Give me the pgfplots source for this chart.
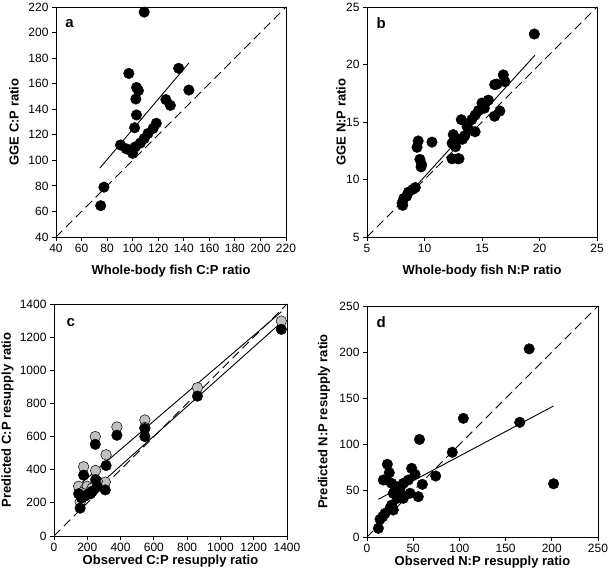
\documentclass[border=0pt]{standalone}
\usepackage{pgfplots}
\pgfplotsset{compat=1.18}
\usepackage{fontspec}
\setmainfont{Liberation Sans}
\definecolor{lgray}{RGB}{192,192,192}
\tikzset{letter/.style={font=\bfseries\fontsize{15}{17}\selectfont, anchor=west}}
\begin{document}
\begin{tikzpicture}[x=1pt,y=1pt]
\useasboundingbox (0,0) rectangle (610,577);
\pgfplotsset{
  panel/.style={
    scale only axis,
    axis line style={line width=0.9pt},
    tick align=outside, xtick pos=left, ytick pos=left,
    major tick length=4pt,
    every tick/.style={black, line width=0.8pt},
    tick label style={font=\fontsize{12}{14}\selectfont},
    every axis y label/.style={rotate=90, anchor=center, font=\bfseries\fontsize{13}{15}\selectfont},
    every axis x label/.style={anchor=center, font=\bfseries\fontsize{13}{15}\selectfont},
    /pgf/number format/assume math mode=true,
    /pgf/number format/1000 sep={},
  },
  dot/.style={only marks, mark=*, mark size=5.3pt, mark options={fill=black, draw=black, line width=0.4pt}},
  gdot/.style={only marks, mark=*, mark size=5.3pt, mark options={fill=lgray, draw=black, line width=0.5pt}},
  oneone/.style={black, line width=0.9pt, dash pattern=on 9pt off 5pt},
  fit/.style={black, line width=0.9pt},
}
% ---------- panel a ----------
\begin{axis}[panel, at={(56pt,340pt)}, anchor=south west, width=230pt, height=230pt,
  xmin=40, xmax=220, ymin=40, ymax=220,
  xtick={40,60,...,220}, ytick={40,60,...,220},
  xlabel={Whole-body fish C:P ratio}, ylabel={GGE C:P ratio},
  xlabel style={at={(axis description cs:0.5,-0.148)}},
  ylabel style={at={(axis description cs:-0.1826,0.5)}}]
\addplot[oneone] coordinates {(40,40) (220,220)};
\addplot[fit] coordinates {(74.4,94) (144,176.2)};
\addplot[dot] coordinates {
(109,216) (97,168) (136,172) (103,157) (104.5,154.5) (102.5,148) (144,155)
(126,147.5) (129.5,143) (103,135.5) (101.5,125.5) (118.5,129) (116,125)
(112,121) (109,117) (106,113.5) (102,110.5) (98,108) (100,105.5) (95,109)
(90.5,112) (77.5,79) (75,64.5)};
\node[letter] at (rel axis cs:0.025,0.93) {a};
\end{axis}
% ---------- panel b ----------
\begin{axis}[panel, at={(367pt,340pt)}, anchor=south west, width=230pt, height=230pt,
  xmin=5, xmax=25, ymin=5, ymax=25,
  xtick={5,10,...,25}, ytick={5,10,...,25},
  xlabel={Whole-body fish N:P ratio}, ylabel={GGE N:P ratio},
  xlabel style={at={(axis description cs:0.5,-0.148)}},
  ylabel style={at={(axis description cs:-0.113,0.5)}}]
\addplot[oneone] coordinates {(5,5) (25,25)};
\addplot[fit] coordinates {(7.6,7.6) (19.6,20.8)};
\addplot[dot] coordinates {
(19.55,22.65) (16.85,19.1) (17.0,18.5) (16.3,18.3) (16.1,18.25) (16.55,15.95)
(16.1,15.5) (15.55,16.9) (15.0,16.65) (15.2,16.2) (14.7,16.0) (14.4,15.6)
(14.1,15.2) (13.2,15.2) (13.7,14.6) (14.4,14.15) (13.9,14.3) (13.5,13.8)
(13.3,13.5) (12.5,13.9) (12.4,13.15) (13.0,13.5) (12.7,12.85) (12.9,11.8)
(12.4,11.8) (13.0,11.8) (10.65,13.25) (9.45,13.35) (9.35,12.8) (9.6,11.75)
(9.75,11.3) (9.7,11.1) (9.2,9.3) (9.0,9.15) (8.6,8.9) (8.45,8.55) (8.2,8.35)
(8.05,7.95) (8.1,7.75)};
\node[letter] at (rel axis cs:0.026,0.93) {b};
\end{axis}
% ---------- panel c ----------
\begin{axis}[panel, at={(54pt,41pt)}, anchor=south west, width=233pt, height=232pt,
  xmin=0, xmax=1400, ymin=0, ymax=1400,
  xtick={0,200,...,1400}, ytick={0,200,...,1400},
  xlabel={Observed C:P resupply ratio}, ylabel={Predicted C:P resupply ratio},
  xlabel style={at={(axis description cs:0.5,-0.108)}},
  ylabel style={at={(axis description cs:-0.2,0.5)}}]
\addplot[oneone] coordinates {(0,0) (1400,1400)};
\addplot[fit] coordinates {(150,307) (1366,1353)};
\addplot[fit] coordinates {(150,200) (1366,1289)};
\addplot[gdot] coordinates {
(1366,1297) (862,895) (546,700) (546,655) (378,658) (248,600) (313,490)
(178,418) (250,395) (308,325) (148,300) (157,205) (185,280) (200,300)
(220,270) (230,290) (165,260) (260,330)};
\addplot[dot] coordinates {
(1366,1247) (862,844) (546,648) (546,600) (378,608) (248,553) (313,425)
(178,367) (250,340) (308,278) (148,255) (157,168) (185,240) (200,250)
(220,255) (230,270) (165,230) (260,300)};
\node[letter] at (rel axis cs:0.039,0.918) {c};
\end{axis}
% ---------- panel d ----------
\begin{axis}[panel, at={(367pt,40pt)}, anchor=south west, width=231pt, height=231pt,
  xmin=0, xmax=250, ymin=0, ymax=250,
  xtick={0,50,...,250}, ytick={0,50,...,250},
  xlabel={Observed N:P resupply ratio}, ylabel={Predicted N:P resupply ratio},
  xlabel style={at={(axis description cs:0.5,-0.108)}},
  ylabel style={at={(axis description cs:-0.186,0.5)}}]
\addplot[oneone] coordinates {(0,0) (250,250)};
\addplot[fit] coordinates {(12.3,40.8) (201.9,141.8)};
\addplot[dot] coordinates {
(175.5,203.6) (201.9,57.6) (165.3,124.1) (104.3,128.4) (56.8,105.6)
(92.3,91.7) (74.3,66) (59.9,57) (55.5,43.6) (48.3,74.3) (52,67.8)
(22,78.7) (24.1,69.6) (21.3,61.7) (17.7,61.7) (26.7,58.1) (32.1,54.4)
(39.3,58.1) (44.7,61.7) (28.5,47.3) (35.7,47.3) (39.3,41.9) (46.5,47.3)
(32.8,41.9) (35.7,52.6) (30,50) (26.7,34.6) (24.9,31) (28.5,29.2)
(19.5,25.6) (17,22) (14.1,19.1) (12.3,9.4)};
\node[letter] at (rel axis cs:0.026,0.93) {d};
\end{axis}
\end{tikzpicture}
\end{document}
